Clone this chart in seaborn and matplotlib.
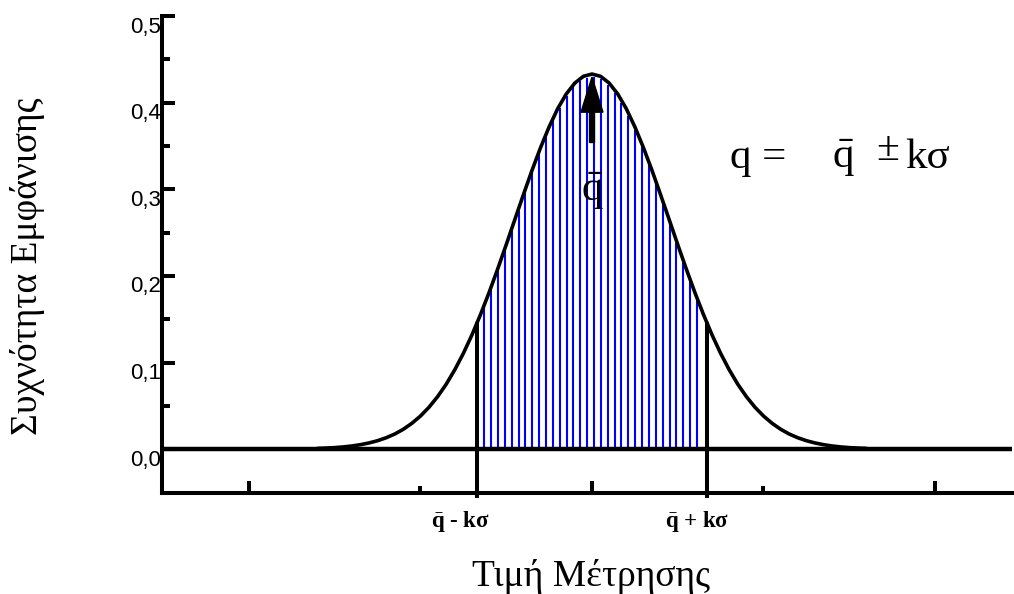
import numpy as np
import matplotlib
matplotlib.use("Agg")
import matplotlib.pyplot as plt
import matplotlib.transforms as mtransforms
import pandas as pd
import seaborn as sns

# Frequency curve of the measured value (x relative to the mean, y = frequency)
curve_x = [-0.800, -0.775, -0.750, -0.725, -0.700, -0.675, -0.650, -0.625,
           -0.600, -0.575, -0.550, -0.525, -0.500, -0.475, -0.450, -0.425,
           -0.400, -0.375, -0.350, -0.325, -0.300, -0.275, -0.250, -0.225,
           -0.200, -0.175, -0.150, -0.125, -0.100, -0.075, -0.050, -0.025,
           0.000,
           0.025, 0.050, 0.075, 0.100, 0.125, 0.150, 0.175, 0.200,
           0.225, 0.250, 0.275, 0.300, 0.325, 0.350, 0.375, 0.400,
           0.425, 0.450, 0.475, 0.500, 0.525, 0.550, 0.575, 0.600,
           0.625, 0.650, 0.675, 0.700, 0.725, 0.750, 0.775, 0.800]
curve_y = [0.0009, 0.0013, 0.0018, 0.0026, 0.0037, 0.0052, 0.0072, 0.0098,
           0.0132, 0.0175, 0.0230, 0.0299, 0.0383, 0.0485, 0.0607, 0.0750,
           0.0917, 0.1106, 0.1319, 0.1554, 0.1808, 0.2079, 0.2361, 0.2650,
           0.2937, 0.3217, 0.3480, 0.3720, 0.3930, 0.4100, 0.4226, 0.4304,
           0.4330,
           0.4304, 0.4226, 0.4100, 0.3930, 0.3720, 0.3480, 0.3217, 0.2937,
           0.2650, 0.2361, 0.2079, 0.1808, 0.1554, 0.1319, 0.1106, 0.0917,
           0.0750, 0.0607, 0.0485, 0.0383, 0.0299, 0.0230, 0.0175, 0.0132,
           0.0098, 0.0072, 0.0052, 0.0037, 0.0026, 0.0018, 0.0013, 0.0009]

mean_value = 0.0
k_sigma = 0.334

y_ticks = [0.0, 0.1, 0.2, 0.3, 0.4, 0.5]
y_minor_ticks = [0.05, 0.15, 0.25, 0.35, 0.45]
y_tick_labels = ["0,0", "0,1", "0,2", "0,3", "0,4", "0,5"]
x_major_ticks = [-1.0, 0.0, 1.0]
x_minor_ticks = [-0.5, 0.5]
interval_labels = [r"$\bar{\mathbf{q}}$ - kσ", r"$\bar{\mathbf{q}}$ + kσ"]
q_bar = r"$\bar{\mathrm{q}}$"

sns.set_theme(style="white")
plt.rcParams["font.family"] = ["Liberation Serif", "DejaVu Sans"]
plt.rcParams["mathtext.fontset"] = "custom"
plt.rcParams["mathtext.rm"] = "Liberation Serif"
plt.rcParams["mathtext.it"] = "Liberation Serif"
plt.rcParams["mathtext.bf"] = "Liberation Serif:bold"
for key in ("text.color", "axes.labelcolor", "xtick.color", "ytick.color"):
    plt.rcParams[key] = "black"

fig = plt.figure(figsize=(10.14, 5.94), dpi=100)
ax = fig.add_axes([162 / 1014, (594 - 492.5) / 594,
                   (1012 - 162) / 1014, (492.5 - 16) / 594])
ax.set_xlim(-1.2536, 1.2245)
ax.set_ylim(-0.05, 0.5)

df = pd.DataFrame({"x": curve_x, "y": curve_y})
lo, hi = mean_value - k_sigma, mean_value + k_sigma

# blue vertical hatching of the area between q̄-kσ and q̄+kσ
hatch_x = np.arange(lo + 0.02, hi - 0.015, 0.02)
hatch_top = np.interp(hatch_x, curve_x, curve_y) - 0.003
ax.vlines(hatch_x, 0, hatch_top, colors="#0000ff", linewidth=1.5, zorder=2)

# zero line across the plot
ax.axhline(0, color="black", linewidth=3.2, zorder=3)

# the curve
sns.lineplot(data=df, x="x", y="y", color="black", linewidth=2.6,
             errorbar=None, ax=ax, zorder=4)

# interval bounds
bound_top = np.interp([lo, hi], curve_x, curve_y)
ax.vlines([lo, hi], -0.056, bound_top, colors="black", linewidth=2.9,
          zorder=4, clip_on=False)

# arrow to the mean
peak = max(curve_y)
ax.arrow(mean_value, 0.354, 0, peak - 0.0035 - 0.354, width=0.0145,
         head_width=0.064, head_length=0.0405, length_includes_head=True,
         color="black", zorder=5)

# q̄ under the arrow
ax.text(mean_value, 0.2866, q_bar, fontsize=31, ha="center", va="baseline",
        zorder=6)

# equation q = q̄ ± kσ
ax.text(0.402, 0.3246, "q =", fontsize=31, ha="left", va="baseline")
ax.text(0.700, 0.3246, q_bar, fontsize=31, ha="left", va="baseline")
ax.text(0.863, 0.3337, "±", fontsize=30, ha="center", va="baseline")
ax.text(0.9125, 0.3246, "kσ", fontsize=31, ha="left", va="baseline")

# interval labels under the axis
for xpos, lab in zip([-0.385, 0.306], interval_labels):
    ax.text(xpos, -0.084, lab, fontsize=16.5, fontweight="bold", ha="center",
            va="center", clip_on=False)

# axes styling
for side in ("top", "right"):
    ax.spines[side].set_visible(False)
for side in ("left", "bottom"):
    ax.spines[side].set_color("black")
    ax.spines[side].set_linewidth(2.9)

ax.set_xticks(x_major_ticks)
ax.set_xticks(x_minor_ticks, minor=True)
ax.set_xticklabels([])
ax.set_yticks(y_ticks)
ax.set_yticks(y_minor_ticks, minor=True)
ax.set_yticklabels(y_tick_labels, fontsize=16, family="Liberation Sans")
ax.tick_params(axis="both", which="both", direction="in", color="black",
               width=2.9)
ax.tick_params(axis="x", which="major", length=8.3, bottom=True)
ax.tick_params(axis="x", which="minor", length=4.7, bottom=True)
ax.tick_params(axis="y", which="major", length=9.4, left=True, pad=0.5)
ax.tick_params(axis="y", which="minor", length=5.8, left=True)
offset = mtransforms.ScaledTranslation(0, -0.11, fig.dpi_scale_trans)
for lab in ax.get_yticklabels():
    lab.set_va("center")
    lab.set_transform(lab.get_transform() + offset)

ax.set_xlabel("Τιμή Μέτρησης", fontsize=27)
ax.xaxis.label.set_va("center")
ax.xaxis.set_label_coords((591 - 162) / 850, (492.5 - 576) / 476.5)
ax.set_ylabel("Συχνότητα Εμφάνισης", fontsize=27)
ax.yaxis.label.set_va("center")
ax.yaxis.set_label_coords((28 - 162) / 850, (492.5 - 266) / 476.5)

fig.savefig("out.png", dpi=100)
